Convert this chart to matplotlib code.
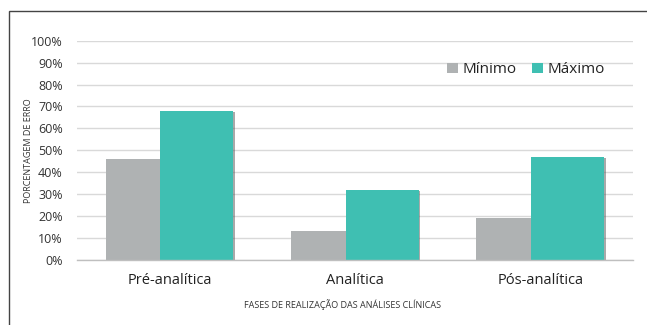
import matplotlib
matplotlib.use("Agg")
import matplotlib.pyplot as plt
import matplotlib.patheffects as pe
from matplotlib.patches import Rectangle, Patch
import numpy as np

categories = ["Pré-analítica", "Analítica", "Pós-analítica"]
minimo = [46, 13, 19]
maximo = [68, 32, 47]
series_names = ["Mínimo", "Máximo"]
y_ticks = [0, 10, 20, 30, 40, 50, 60, 70, 80, 90, 100]

GRAY = "#AFB2B3"
TEAL = "#3FBFB2"

plt.rcParams["font.family"] = ["Open Sans", "DejaVu Sans"]

W, H = 647, 325
fig = plt.figure(figsize=(W / 100, H / 100), dpi=100)
ax = fig.add_axes([76.7 / W, 1 - 260 / H, (633 - 76.7) / W, (260 - 40.7) / H])

x = np.arange(len(categories))
bw = 0.393
off = 0.148
shadow = [pe.SimplePatchShadow(offset=(1.2, -0.8), shadow_rgbFace="#555555", alpha=0.5), pe.Normal()]
b1 = ax.bar(x - off, minimo, width=bw, color=GRAY, zorder=3)
b2 = ax.bar(x + off, maximo, width=bw, color=TEAL, zorder=4)
for b in list(b1) + list(b2):
    b.set_path_effects(shadow)

ax.set_xlim(-0.5, len(categories) - 0.5)
ax.set_ylim(0, 100)
ax.set_yticks(y_ticks)
ax.set_yticklabels([f"{t}%" for t in y_ticks], fontsize=9, color="#333333")
ax.set_xticks(x)
ax.set_xticklabels(categories, fontsize=10.5, color="#222222")
ax.tick_params(axis="both", length=0)
ax.tick_params(axis="y", pad=10)
ax.tick_params(axis="x", pad=9)
ax.yaxis.grid(True, color="#D9D9D9", linewidth=1, zorder=0)
ax.set_axisbelow(True)
for s in ["top", "right", "left"]:
    ax.spines[s].set_visible(False)
ax.spines["bottom"].set_color("#BFBFBF")
ax.spines["bottom"].set_linewidth(1)
ax.spines["bottom"].set_zorder(5)

ax.set_ylabel("PORCENTAGEM DE ERRO", fontsize=6.5, color="#333333")
ax.yaxis.set_label_coords(-44 / (633 - 76.7), 0.5)
fig.text(342 / W, 1 - 305 / H, "FASES DE REALIZAÇÃO DAS ANÁLISES CLÍNICAS",
         fontsize=6.5, color="#333333", ha="center", va="center")

handles = [Patch(facecolor=GRAY, edgecolor="none"), Patch(facecolor=TEAL, edgecolor="none")]
ax.legend(handles, series_names, loc="center",
          bbox_to_anchor=((526 - 76.7) / (633 - 76.7), (260 - 70) / (260 - 40.7)),
          ncol=2, frameon=False, fontsize=11, handlelength=0.7, handleheight=0.7,
          handletextpad=0.3, columnspacing=1.0, labelcolor="#222222")

fig.patches.append(Rectangle((9 / W, -0.1), 1.2, 1 - 10.5 / H + 0.1, transform=fig.transFigure,
                             fill=False, edgecolor="#444444", linewidth=1.0, figure=fig))

fig.savefig("out.png", dpi=100, facecolor="white")
